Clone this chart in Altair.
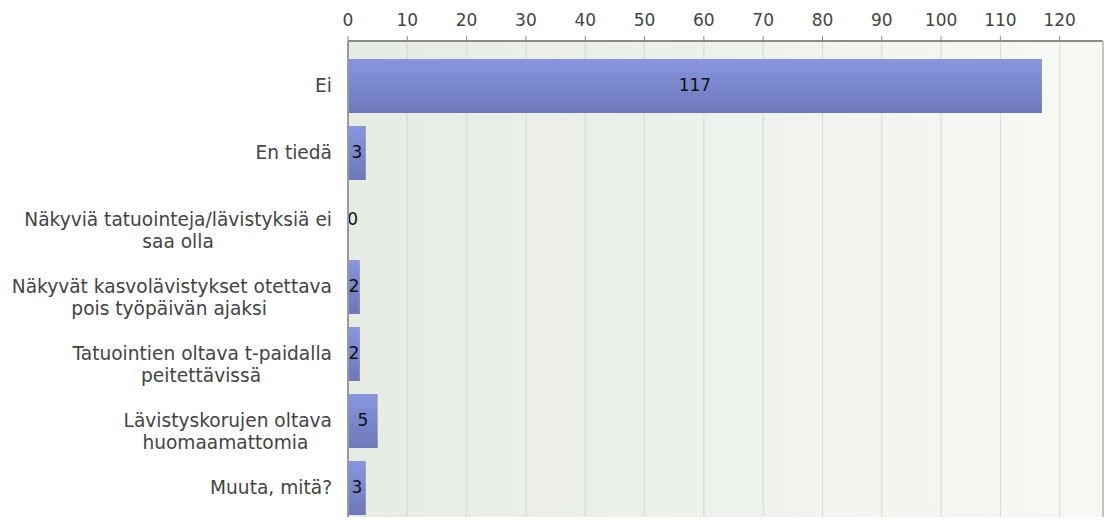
import altair as alt
import pandas as pd

# ---- data ----
categories = [
    "Ei",
    "En tiedä",
    "Näkyviä tatuointeja/lävistyksiä ei saa olla",
    "Näkyvät kasvolävistykset otettava pois työpäivän ajaksi",
    "Tatuointien oltava t-paidalla peitettävissä",
    "Lävistyskorujen oltava huomaamattomia",
    "Muuta, mitä?",
]
label_lines = [
    ["Ei"],
    ["En tiedä"],
    ["Näkyviä tatuointeja/lävistyksiä ei", "saa olla"],
    ["Näkyvät kasvolävistykset otettava", "pois työpäivän ajaksi"],
    ["Tatuointien oltava t-paidalla", "peitettävissä"],
    ["Lävistyskorujen oltava", "huomaamattomia"],
    ["Muuta, mitä?"],
]
values = [117, 3, 0, 2, 2, 5, 3]
tick_values = [0, 10, 20, 30, 40, 50, 60, 70, 80, 90, 100, 110, 120]

FONT = "DejaVu Sans"

# approximate DejaVu Sans advance widths (per 1000 em), used only to centre
# the second line of a wrapped label under the first one
_w = {" ": 318, "a": 613, "b": 635, "c": 550, "d": 635, "e": 615, "f": 352,
      "g": 635, "h": 634, "i": 278, "j": 278, "k": 579, "l": 278, "m": 974,
      "n": 634, "o": 612, "p": 635, "r": 411, "s": 521, "t": 392, "u": 634,
      "v": 592, "y": 592, "ä": 613, "ö": 612, "/": 337, "-": 361, ",": 318,
      "?": 531, "N": 748, "E": 632, "T": 611, "L": 557, "M": 863}


def _width(s):
    return sum(_w.get(ch, 600) for ch in s)


def wrap(lines):
    if len(lines) == 1:
        return lines[0]
    w1 = _width(lines[0])
    out = [lines[0]]
    for ln in lines[1:]:
        n = round((w1 - _width(ln)) / 2 / 318)
        out.append(ln + "\u00a0" * max(n, 0) + "\u200b")
    return "\n".join(out)


df = pd.DataFrame({
    "category": categories,
    "label": [wrap(l) for l in label_lines],
    "value": values,
})
ticks_df = pd.DataFrame({"t": tick_values})

W, H = 755, 476
x_scale = alt.Scale(domain=[0, 127.3], nice=False, zero=True)
y_scale = alt.Scale(domain=categories, paddingInner=0.194, paddingOuter=0.1493,
                    align=0.9)

bg = alt.Chart(df).mark_rect(
    fill=alt.LinearGradient(
        gradient="linear", x1=0, x2=1, y1=0, y2=0,
        stops=[alt.GradientStop(color="#e6ebe3", offset=0),
               alt.GradientStop(color="#f7f9f5", offset=1)],
    )
).encode(x=alt.value(0), x2=alt.value(W), y=alt.value(0), y2=alt.value(H + 10))

grid = alt.Chart(ticks_df).mark_rule(color="#d6dad3", strokeWidth=1).encode(
    x=alt.X("t:Q", scale=x_scale, axis=None),
    y=alt.value(0), y2=alt.value(H + 10),
)

# top axis: ticks, labels and line
tick_marks = alt.Chart(ticks_df).mark_rule(color="#8a8a8a", strokeWidth=1).encode(
    x=alt.X("t:Q", scale=x_scale, axis=None),
    y=alt.value(-5), y2=alt.value(0),
)
tick_labels = alt.Chart(ticks_df).mark_text(
    font=FONT, fontSize=17, color="#444444", align="center", baseline="bottom"
).encode(
    x=alt.X("t:Q", scale=x_scale, axis=None),
    y=alt.value(-11),
    text="t:Q",
)
top_line = alt.Chart(ticks_df).mark_rule(color="#8a8a8a", strokeWidth=1).encode(
    x=alt.value(0), x2=alt.value(W), y=alt.value(0)
)
left_line = alt.Chart(ticks_df).mark_rule(color="#9a9a9a", strokeWidth=1).encode(
    x=alt.value(0), y=alt.value(0), y2=alt.value(H + 10)
)
right_line = alt.Chart(ticks_df).mark_rule(color="#c4c4c4", strokeWidth=1).encode(
    x=alt.value(W), y=alt.value(0), y2=alt.value(H + 10)
)

bars = alt.Chart(df).mark_bar(
    fill=alt.LinearGradient(
        gradient="linear", x1=0, x2=0, y1=0, y2=1,
        stops=[alt.GradientStop(color="#8896e0", offset=0),
               alt.GradientStop(color="#6c78b8", offset=1)],
    )
).encode(
    x=alt.X("value:Q", scale=x_scale, axis=None),
    y=alt.Y("category:N", scale=y_scale, sort=categories, axis=None),
)

value_text = alt.Chart(df).transform_calculate(
    pos="max(datum.value / 2, 0.8)"
).mark_text(font=FONT, fontSize=17, color="#111111", align="center",
            baseline="middle").encode(
    x=alt.X("pos:Q", scale=x_scale, axis=None),
    y=alt.Y("category:N", scale=y_scale, sort=categories, axis=None),
    text="value:Q",
)

label_text = alt.Chart(df).mark_text(
    font=FONT, fontSize=18.6, color="#444444", align="right", baseline="middle",
    lineBreak="\n", lineHeight=22,
).encode(
    x=alt.value(-16),
    y=alt.Y("category:N", scale=y_scale, sort=categories, axis=None),
    text="label:N",
)

chart = alt.layer(
    bg, grid, bars, value_text, label_text, tick_marks, tick_labels,
    top_line, left_line, right_line,
).properties(
    width=W, height=H,
    autosize=alt.AutoSizeParams(type="none"),
    padding={"left": 340, "top": 33, "right": 1, "bottom": 0},
).configure_view(stroke=None)

chart.save("out.html", embed_options={"renderer": "svg", "actions": False})
